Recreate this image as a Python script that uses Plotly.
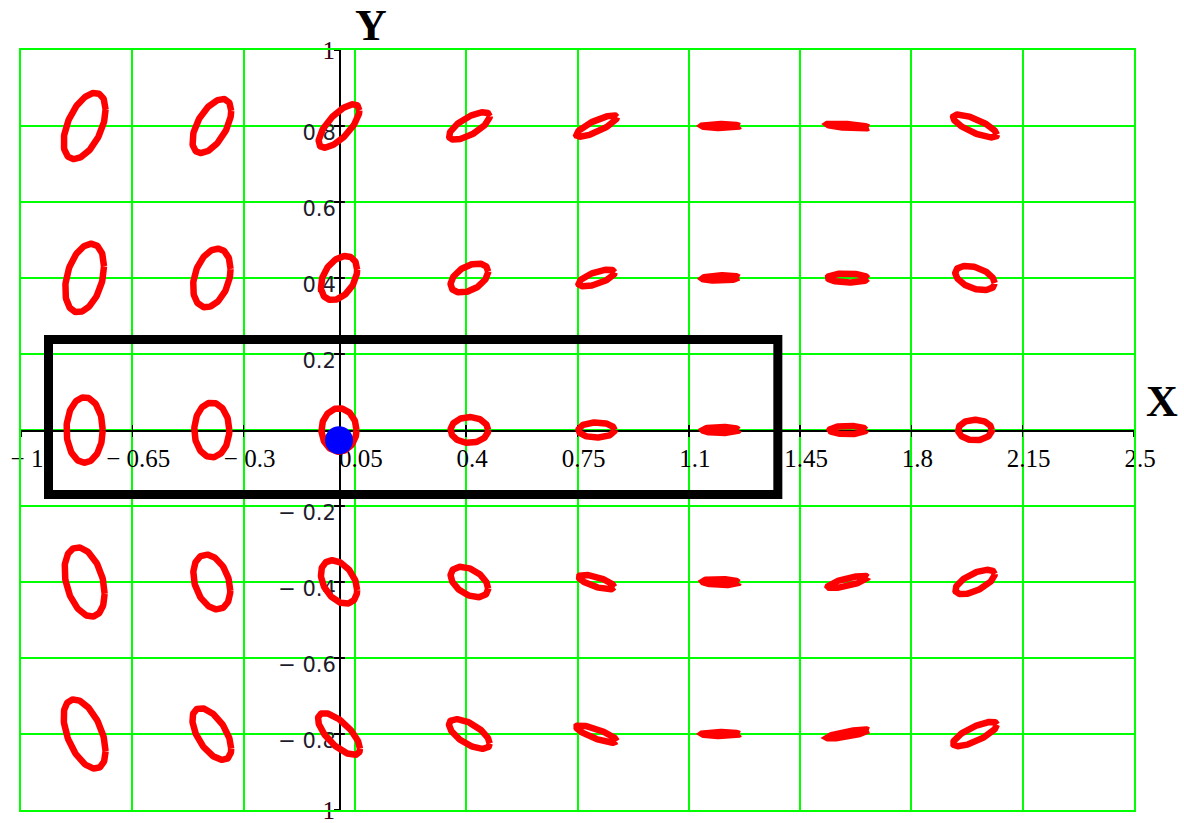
import numpy as np
import plotly.graph_objects as go

# ---------------- data ----------------
# centres of the ellipse grid
col_x = [-0.8, -0.4, 0.0, 0.41, 0.81, 1.2, 1.6, 2.0]
row_y = [0.8, 0.4, 0.0, -0.4, -0.8]

# horizontal half-extent of each ellipse (x units), one list per row
half_w = [
    [0.066, 0.061, 0.064, 0.064, 0.064, 0.060, 0.066, 0.069],
    [0.061, 0.059, 0.057, 0.059, 0.057, 0.058, 0.063, 0.062],
    [0.057, 0.055, 0.055, 0.059, 0.057, 0.057, 0.057, 0.053],
    [0.063, 0.058, 0.057, 0.059, 0.056, 0.057, 0.063, 0.062],
    [0.066, 0.061, 0.066, 0.064, 0.064, 0.060, 0.066, 0.069],
]
# vertical half-extent of each ellipse (y units)
half_h = [
    [0.087, 0.071, 0.057, 0.036, 0.028, 0.005, 0.0066, 0.030],
    [0.090, 0.077, 0.058, 0.038, 0.022, 0.007, 0.012, 0.032],
    [0.086, 0.072, 0.057, 0.034, 0.020, 0.008, 0.011, 0.027],
    [0.091, 0.072, 0.057, 0.040, 0.019, 0.008, 0.016, 0.032],
    [0.091, 0.068, 0.055, 0.039, 0.023, 0.005, 0.012, 0.032],
]
# phase lag (degrees) between the y and x oscillations
phase_deg = [
    [60, 56, 44, 45, 35, 90, 130, 140],
    [70, 72, 68, 64, 48, 80, 95, 115],
    [90, 90, 90, 90, 90, 90, 90, 90],
    [110, 108, 112, 116, 135, 100, 40, 50],
    [120, 125, 135, 130, 145, 90, 35, 40],
]

# blue point
point_x = [0.0]
point_y = [-0.027]

# black selection rectangle (corners)
rect_x = [-0.9135, 1.380]
rect_y = [-0.170, 0.238]

# axes ticks
x_ticks = [-1, -0.65, -0.3, 0.05, 0.4, 0.75, 1.1, 1.45, 1.8, 2.15, 2.5]
x_labels = ["\u2212 1", "\u2212 0.65", "\u2212 0.3", "0.05", "0.4", "0.75",
            "1.1", "1.45", "1.8", "2.15", "2.5"]
y_ticks = [-0.8, -0.6, -0.4, -0.2, 0.2, 0.4, 0.6, 0.8]
y_labels = ["\u2212 0.8", "\u2212 0.6", "\u2212 0.4", "\u2212 0.2",
            "0.2", "0.4", "0.6", "0.8"]
y_end_ticks = [-1, 1]
y_end_labels = ["\u2212 1", "1"]
y_grid = [-1, -0.8, -0.6, -0.4, -0.2, 0, 0.2, 0.4, 0.6, 0.8, 1]
y_all_ticks = [-1, -0.8, -0.6, -0.4, -0.2, 0.2, 0.4, 0.6, 0.8, 1]

# ---------------- figure ----------------
GREEN = "#00ff00"
RED = "#ff0000"
t = np.linspace(0, 2 * np.pi, 121)

fig = go.Figure()

# empty traces so that the overlay axes (axis lines / ticks / labels) exist
for xa, ya in [("x2", "y"), ("x3", "y"), ("x", "y2"), ("x", "y3"), ("x", "y4")]:
    fig.add_trace(go.Scatter(x=[], y=[], xaxis=xa, yaxis=ya, mode="markers",
                             hoverinfo="skip"))

for i, cy in enumerate(row_y):
    for j, cx in enumerate(col_x):
        ph = np.deg2rad(phase_deg[i][j])
        ex = cx + half_w[i][j] * np.cos(t)
        ey = cy + half_h[i][j] * np.cos(t - ph)
        fig.add_trace(go.Scatter(x=ex, y=ey, mode="lines",
                                 line=dict(color=RED, width=6.5),
                                 hoverinfo="skip"))

fig.add_trace(go.Scatter(x=point_x, y=point_y, mode="markers",
                         marker=dict(color="#0000ff", size=28, line=dict(width=0)),
                         hoverinfo="skip"))

fig.add_shape(type="rect", xref="x", yref="y",
              x0=rect_x[0], x1=rect_x[1], y0=rect_y[0], y1=rect_y[1],
              line=dict(color="black", width=9), layer="above")

serif = "Liberation Serif"
common_x = dict(range=[-1, 2.5], fixedrange=True, showgrid=False,
                zeroline=False, ticklabeloverflow="allow")
common_y = dict(range=[-1, 1], fixedrange=True, showgrid=False,
                zeroline=False, ticklabeloverflow="allow")

fig.update_layout(
    template="none",
    width=1184, height=823,
    margin=dict(l=21, r=50, t=50, b=13),
    paper_bgcolor="white", plot_bgcolor="white",
    showlegend=False,
    xaxis=dict(range=[-1, 2.5], fixedrange=True, tickvals=x_ticks,
               showticklabels=False, ticks="", showgrid=True,
               gridcolor=GREEN, gridwidth=2, zeroline=False,
               showline=True, linecolor=GREEN, linewidth=2, mirror=True),
    yaxis=dict(range=[-1, 1], fixedrange=True, tickvals=y_grid,
               showticklabels=False, ticks="", showgrid=True,
               gridcolor=GREEN, gridwidth=2, zeroline=False,
               showline=True, linecolor=GREEN, linewidth=2, mirror=True),
    xaxis2=dict(**common_x, overlaying="x", anchor="free", position=0.5,
                side="bottom", tickvals=x_ticks, ticktext=x_labels,
                ticks="outside", ticklen=5, tickwidth=1.5, tickcolor="black",
                showline=True, linecolor="black", linewidth=1.5,
                tickfont=dict(family=serif, size=25, color="black"),
                ticklabelshift=6, layer="below traces"),
    xaxis3=dict(**common_x, overlaying="x", anchor="free", position=0.5,
                side="bottom", tickvals=x_ticks, showticklabels=False,
                ticks="inside", ticklen=5, tickwidth=1.5, tickcolor="black",
                showline=False, layer="below traces"),
    yaxis2=dict(**common_y, overlaying="y", anchor="free", position=1 / 3.5,
                side="left", tickvals=y_ticks, ticktext=y_labels,
                ticks="outside", ticklen=5, tickwidth=1.5, tickcolor="black",
                showline=True, linecolor="black", linewidth=1.5,
                tickfont=dict(family="DejaVu Sans", size=21, color="#1c1c2c"),
                ticklabelshift=7, ticklabelstandoff=-6, layer="below traces"),
    yaxis3=dict(**common_y, overlaying="y", anchor="free", position=1 / 3.5,
                side="left", tickvals=y_end_ticks, ticktext=y_end_labels,
                ticks="outside", ticklen=5, tickwidth=1.5, tickcolor="black",
                showline=False, ticklabelstandoff=-6,
                tickfont=dict(family=serif, size=25, color="#300010"),
                layer="below traces"),
    yaxis4=dict(**common_y, overlaying="y", anchor="free", position=1 / 3.5,
                side="left", tickvals=y_all_ticks, showticklabels=False,
                ticks="inside", ticklen=5, tickwidth=1.5, tickcolor="black",
                showline=False, layer="below traces"),
    annotations=[
        dict(text="<b>Y</b>", x=0.3145, y=1.032, xref="paper", yref="paper",
             showarrow=False, xanchor="center", yanchor="middle",
             font=dict(family=serif, size=44, color="black")),
        dict(text="<b>X</b>", x=1.0252, y=0.537, xref="paper", yref="paper",
             showarrow=False, xanchor="center", yanchor="middle",
             font=dict(family=serif, size=44, color="black")),
    ],
)

# remove the default page margin so the figure sits at the window origin
fig.write_html("out.html",
               config={"displayModeBar": False, "staticPlot": True},
               post_script="document.body.style.margin='0px';")
